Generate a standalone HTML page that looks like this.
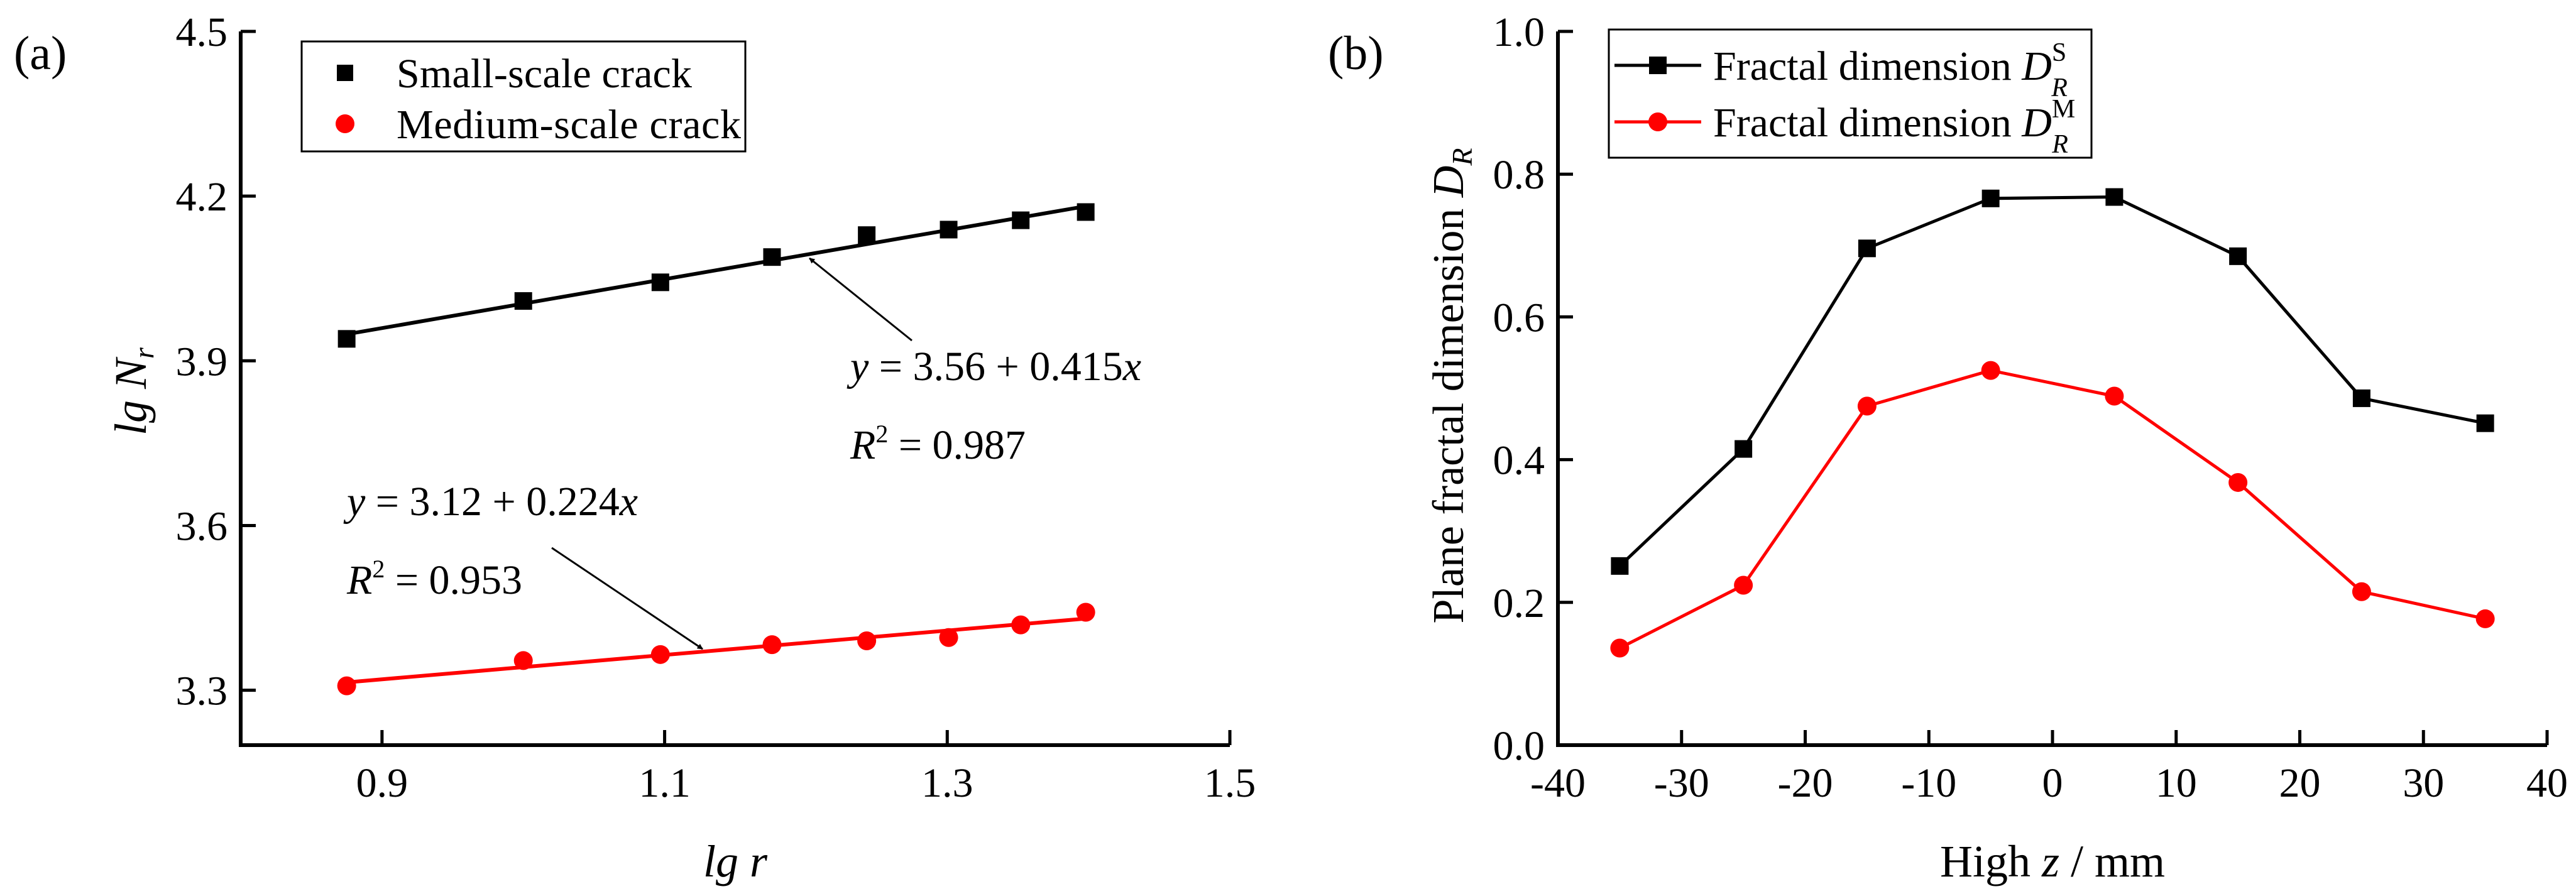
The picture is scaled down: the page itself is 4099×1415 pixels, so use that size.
<!DOCTYPE html>
<html><head><meta charset="utf-8"><style>
html,body{margin:0;padding:0;background:#fff;}
svg{display:block;}
svg text{font-family:"Liberation Serif","Times New Roman",serif;}
</style></head><body>
<svg id="fig" width="4099" height="1415" viewBox="0 0 4099 1415" xmlns="http://www.w3.org/2000/svg" font-family="Liberation Serif, serif">
<defs>
<marker id="ah" viewBox="0 0 10 10" refX="9" refY="5" markerWidth="9" markerHeight="9" orient="auto" markerUnits="userSpaceOnUse"><path d="M0,0 L10,5 L0,10 z" fill="#000"/></marker>
</defs>
<g id="pa"></g>
<g id="pb"></g>
</svg>
<script>
// Panel (a) data
const aX = [0.875, 1.0, 1.097, 1.176, 1.243, 1.301, 1.352, 1.398];
const aSmall = [3.940, 4.009, 4.043, 4.089, 4.129, 4.139, 4.156, 4.171];
const aMedium = [3.308, 3.354, 3.365, 3.383, 3.390, 3.396, 3.419, 3.442];
const aXTicks = [0.9, 1.1, 1.3, 1.5];
const aYTicks = [3.3, 3.6, 3.9, 4.2, 4.5];
// Panel (b) data
const bX = [-35, -25, -15, -5, 5, 15, 25, 35];
const bS = [0.251, 0.415, 0.696, 0.766, 0.768, 0.685, 0.486, 0.451];
const bM = [0.136, 0.224, 0.475, 0.525, 0.489, 0.368, 0.215, 0.177];
const bXTicks = [-40, -30, -20, -10, 0, 10, 20, 30, 40];
const bYTicks = [0.0, 0.2, 0.4, 0.6, 0.8, 1.0];

const NS = "http://www.w3.org/2000/svg";
const FF = '"Liberation Serif", serif';
function mk(parent, tag, attrs, text) {
  const e = document.createElementNS(NS, tag);
  for (const k in attrs) e.setAttribute(k, attrs[k]);
  if (tag === 'text') e.setAttribute('font-family', FF);
  if (text !== undefined) e.textContent = text;
  parent.appendChild(e);
  return e;
}
function fit(xs, ys) {
  const n = xs.length;
  const mx = xs.reduce((a, b) => a + b, 0) / n, my = ys.reduce((a, b) => a + b, 0) / n;
  let sxy = 0, sxx = 0;
  for (let i = 0; i < n; i++) { sxy += (xs[i] - mx) * (ys[i] - my); sxx += (xs[i] - mx) ** 2; }
  const b = sxy / sxx;
  return [my - b * mx, b];
}
const pa = document.getElementById('pa');
const pb = document.getElementById('pb');
const FS = 66;

// ---------- Panel A ----------
const ax = v => 383 + (v - 0.8) / 0.7 * (1957 - 383);
const ay = v => 1186 - (v - 3.2) / 1.3 * (1186 - 50);
let e;
e = mk(pa, 'path', {d: `M383,50 L383,1186 L1957,1186`, fill: 'none', stroke: '#000', 'stroke-width': 6});


aXTicks.forEach(t => {
  e = mk(pa, 'line', {x1: ax(t), x2: ax(t), y1: 1186, y2: 1162, stroke: '#000', 'stroke-width': 5});
  
  
  e = mk(pa, 'text', {x: ax(t), y: 1268, 'text-anchor': 'middle', 'font-size': FS}, t.toFixed(1));
  
  
});
aYTicks.forEach(t => {
  e = mk(pa, 'line', {x1: 383, x2: 407, y1: ay(t), y2: ay(t), stroke: '#000', 'stroke-width': 5});
  
  
  e = mk(pa, 'text', {x: 362, y: ay(t) + 23, 'text-anchor': 'end', 'font-size': FS}, t.toFixed(1));
  
  
});
[[aSmall, '#000', 'a-fit-small'], [aMedium, '#f00', 'a-fit-medium']].forEach(([ys, c, n]) => {
  const f = fit(aX, ys);
  const x0 = aX[0], x1 = aX[aX.length - 1];
  e = mk(pa, 'line', {x1: ax(x0), y1: ay(f[0] + f[1] * x0), x2: ax(x1), y2: ay(f[0] + f[1] * x1), stroke: c, 'stroke-width': 6});
  
  
});
aX.forEach((x, i) => {
  e = mk(pa, 'rect', {x: ax(x) - 14, y: ay(aSmall[i]) - 14, width: 28, height: 28, fill: '#000'});
  
  
  e = mk(pa, 'circle', {cx: ax(x), cy: ay(aMedium[i]), r: 15, fill: '#f00'});
  
  
});
e = mk(pa, 'line', {x1: 1451, y1: 542, x2: 1288, y2: 411, stroke: '#000', 'stroke-width': 3, 'marker-end': 'url(#ah)'});


e = mk(pa, 'line', {x1: 878, y1: 872, x2: 1118, y2: 1033, stroke: '#000', 'stroke-width': 3, 'marker-end': 'url(#ah)'});


function eq(x, y, a, b, r2, n) {
  const t = mk(pa, 'text', {x: x, y: y, 'font-size': FS});
  
  
  mk(t, 'tspan', {'font-style': 'italic'}, 'y');
  mk(t, 'tspan', {}, ' = ' + a + ' + ' + b);
  mk(t, 'tspan', {'font-style': 'italic'}, 'x');
  const t2 = mk(pa, 'text', {x: x, y: y + 125, 'font-size': FS});
  
  
  mk(t2, 'tspan', {'font-style': 'italic'}, 'R');
  mk(t2, 'tspan', {'font-size': 40, dy: -26}, '2');
  mk(t2, 'tspan', {dy: 26}, ' = ' + r2);
}
eq(1353, 605, '3.56', '0.415', '0.987', 'a-small-fit');
eq(552, 820, '3.12', '0.224', '0.953', 'a-medium-fit');
e = mk(pa, 'rect', {x: 480, y: 66, width: 706, height: 175, fill: '#fff', stroke: '#000', 'stroke-width': 3});


e = mk(pa, 'rect', {x: 536, y: 103, width: 26, height: 26, fill: '#000'});


e = mk(pa, 'text', {x: 631, y: 139, 'font-size': FS, textLength: 470}, 'Small-scale crack');


e = mk(pa, 'circle', {cx: 549, cy: 197, r: 15, fill: '#f00'});


e = mk(pa, 'text', {x: 631, y: 220, 'font-size': FS, textLength: 548}, 'Medium-scale crack');


e = mk(pa, 'text', {x: 22, y: 110, 'font-size': 76}, '(a)');


let t = mk(pa, 'text', {x: 0, y: 0, 'font-size': 72, 'font-style': 'italic', 'text-anchor': 'middle', transform: 'translate(232,623) rotate(-90)'});


mk(t, 'tspan', {}, 'lg N');
mk(t, 'tspan', {'font-size': 46, dy: 12}, 'r');
e = mk(pa, 'text', {x: 1170, y: 1395, 'font-size': 72, 'font-style': 'italic', 'text-anchor': 'middle'}, 'lg r');



// ---------- Panel B ----------
const bx = v => 2479 + (v + 40) / 80 * (4053 - 2479);
const by = v => 1186 - v * (1186 - 50);
e = mk(pb, 'path', {d: `M2479,50 L2479,1186 L4053,1186`, fill: 'none', stroke: '#000', 'stroke-width': 6});


bXTicks.forEach(tk => {
  e = mk(pb, 'line', {x1: bx(tk), x2: bx(tk), y1: 1186, y2: 1162, stroke: '#000', 'stroke-width': 5});
  
  
  e = mk(pb, 'text', {x: bx(tk), y: 1268, 'text-anchor': 'middle', 'font-size': FS}, String(tk));
  
  
});
bYTicks.forEach(tk => {
  e = mk(pb, 'line', {x1: 2479, x2: 2503, y1: by(tk), y2: by(tk), stroke: '#000', 'stroke-width': 5});
  
  
  e = mk(pb, 'text', {x: 2458, y: by(tk) + 23, 'text-anchor': 'end', 'font-size': FS}, tk.toFixed(1));
  
  
});
e = mk(pb, 'polyline', {points: bX.map((x, i) => bx(x) + ',' + by(bS[i])).join(' '), fill: 'none', stroke: '#000', 'stroke-width': 5});


e = mk(pb, 'polyline', {points: bX.map((x, i) => bx(x) + ',' + by(bM[i])).join(' '), fill: 'none', stroke: '#f00', 'stroke-width': 5});


bX.forEach((x, i) => {
  e = mk(pb, 'rect', {x: bx(x) - 14, y: by(bS[i]) - 14, width: 28, height: 28, fill: '#000'});
  
  
  e = mk(pb, 'circle', {cx: bx(x), cy: by(bM[i]), r: 15, fill: '#f00'});
  
  
});
e = mk(pb, 'rect', {x: 2560, y: 47, width: 768, height: 204, fill: '#fff', stroke: '#000', 'stroke-width': 3});


function bLeg(y, col, isSq, sup, n) {
  let el = mk(pb, 'line', {x1: 2569, x2: 2707, y1: y, y2: y, stroke: col, 'stroke-width': 5});
  
  
  if (isSq) el = mk(pb, 'rect', {x: 2624, y: y - 14, width: 28, height: 28, fill: col});
  else el = mk(pb, 'circle', {cx: 2638, cy: y, r: 15, fill: col});
  
  
  const tx = mk(pb, 'text', {x: 2726, y: y + 23, 'font-size': FS});
  
  
  mk(tx, 'tspan', {}, 'Fractal dimension ');
  mk(tx, 'tspan', {'font-style': 'italic'}, 'D');
  mk(tx, 'tspan', {'font-size': 42, dy: -30}, sup);
  mk(tx, 'tspan', {'font-size': 42, 'font-style': 'italic', dx: sup === 'S' ? -24 : -37, dy: 56}, 'R');
}
bLeg(104, '#000', true, 'S', 'b-legend-s');
bLeg(194, '#f00', false, 'M', 'b-legend-m');
e = mk(pb, 'text', {x: 2113, y: 110, 'font-size': 76}, '(b)');


t = mk(pb, 'text', {x: 0, y: 0, 'font-size': 70, 'text-anchor': 'middle', transform: 'translate(2328,614) rotate(-90)'});


mk(t, 'tspan', {}, 'Plane fractal dimension ');
mk(t, 'tspan', {'font-style': 'italic'}, 'D');
mk(t, 'tspan', {'font-style': 'italic', 'font-size': 46, dy: 14}, 'R');
t = mk(pb, 'text', {x: 3266, y: 1395, 'font-size': 72, 'text-anchor': 'middle'});


mk(t, 'tspan', {}, 'High ');
mk(t, 'tspan', {'font-style': 'italic'}, 'z');
mk(t, 'tspan', {}, ' / mm');
</script>
</body></html>
